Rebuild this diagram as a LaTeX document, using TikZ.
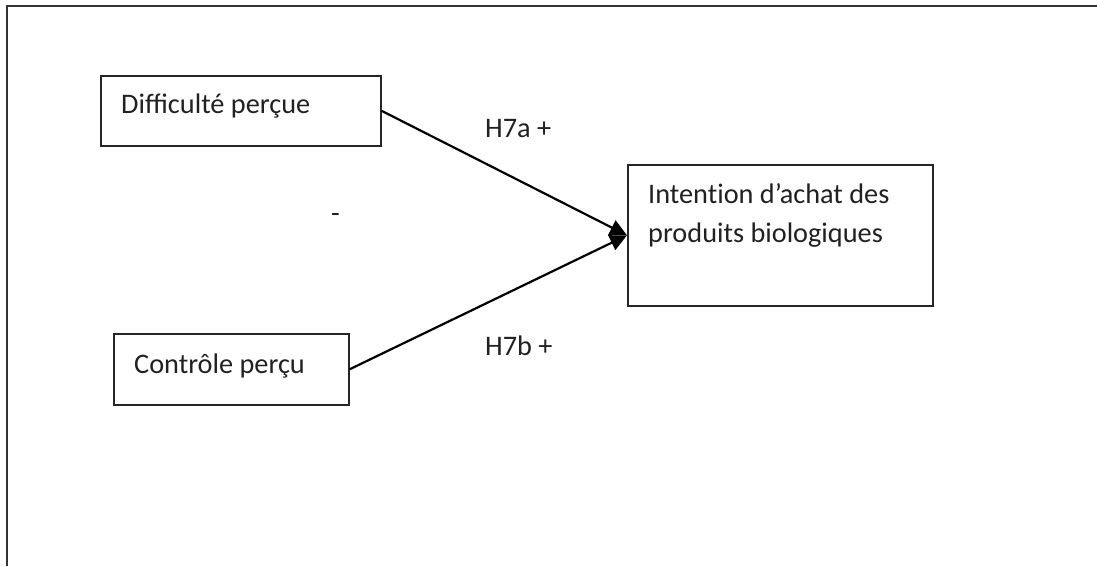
\documentclass[tikz,border=0pt]{standalone}
\usepackage{fontspec}
\setmainfont{Carlito}
\usetikzlibrary{arrows.meta}
\begin{document}
\begin{tikzpicture}[x=1pt,y=-1pt,
  box/.style={draw=black!85,line width=1.6pt,rectangle,inner sep=0pt,anchor=north west},
  lbl/.style={font=\fontsize{28.3}{39}\selectfont,text=black!87,inner sep=0pt,anchor=base west},
  link/.style={line width=2.2pt,-{Triangle[length=17pt,width=16pt]}}]
\useasboundingbox (0,0) rectangle (1097,566);
% frame (top and left sides)
\coordinate (fa) at (1097,6);
\coordinate (fb) at (7,6);
\coordinate (fc) at (7,566);
\draw[line width=1.6pt,black!80] (fa) -- (fb) -- (fc);
% boxes
\node[box,minimum width=280pt,minimum height=70pt] (b1) at (100,75) {};
\node[box,minimum width=235pt,minimum height=71pt] (b2) at (113,333) {};
\node[box,minimum width=305pt,minimum height=141pt] (b3) at (627,164) {};
% texts
\node[lbl] (t1) at (121,113) {Difficulté perçue};
\node[lbl] (t2) at (134,373) {Contrôle perçu};
\node[lbl] (t3) at (648,203) {Intent\kern0pt ion d’achat des};
\node[lbl] (t4) at (648,242) {produits biologiques};
\node[lbl] (h1) at (485,137) {H7a +};
\node[lbl] (h2) at (485,355) {H7b +};
\node[lbl] (dash) at (331,222) {-};
% connectors
\draw[link] (b1.east) -- (b3.west);
\draw[link] (b2.east) -- (b3.west);
\end{tikzpicture}
\end{document}
